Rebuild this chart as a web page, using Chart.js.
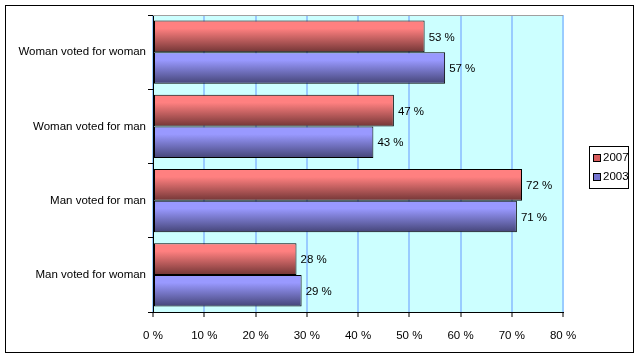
<!DOCTYPE html>
<html>
<head>
<meta charset="utf-8">
<script src="https://cdn.jsdelivr.net/npm/chart.js@4/dist/chart.umd.min.js"></script>
<style>
  html, body { margin: 0; padding: 0; background: #fff; }
  #wrap { width: 640px; height: 359px; }
</style>
</head>
<body>
<div id="wrap"><canvas id="grafico" width="640" height="359"></canvas></div>
<script>
// datos
const categorias = ['Woman voted for woman', 'Woman voted for man', 'Man voted for man', 'Man voted for woman'];
const serie2007 = [53, 47, 72, 28];
const serie2003 = [57, 43, 71, 29];
const nombresSeries = ['2007', '2003'];
const ticksX = [0, 10, 20, 30, 40, 50, 60, 70, 80];

const FUENTE = '"Liberation Sans", Arial, sans-serif';
const TAM = 11.5;

// degradado vertical para cada barra (claro arriba, oscuro abajo)
function degradado(arriba, abajo, dsIndex) {
    return function (ctx) {
        const chart = ctx.chart;
        const y = chart.scales && chart.scales.y;
        if (!y || ctx.dataIndex === undefined) return arriba;
        const centro = y.getPixelForValue(ctx.dataIndex);
        const alto = (y.bottom - y.top) / categorias.length * 0.85 / 2;
        if (!isFinite(centro) || !isFinite(alto) || alto <= 0) return arriba;
        const y0 = dsIndex === 0 ? centro - alto : centro;
        const g = chart.ctx.createLinearGradient(0, y0, 0, y0 + alto);
        g.addColorStop(0, arriba);
        g.addColorStop(0.25, arriba);
        g.addColorStop(1, abajo);
        return g;
    };
}

// fondo, marco exterior y area del grafico
const fondoPlugin = {
    id: 'fondo',
    beforeDraw(chart) {
        const c = chart.ctx;
        const a = chart.chartArea;
        c.save();
        c.fillStyle = '#ffffff';
        c.fillRect(0, 0, chart.width, chart.height);
        c.strokeStyle = '#000000';
        c.lineWidth = 1;
        c.strokeRect(5.5, 5.5, 628, 347);
        c.fillStyle = '#CCFFFF';
        c.fillRect(a.left, a.top, a.right - a.left, a.bottom - a.top);
        c.restore();
    },
    beforeDatasetsDraw(chart) {
        const c = chart.ctx;
        const a = chart.chartArea;
        c.save();
        c.strokeStyle = '#A0A0A0';
        c.lineWidth = 1;
        c.beginPath();
        c.moveTo(a.left, a.top + 0.5);
        c.lineTo(a.right, a.top + 0.5);
        c.stroke();
        c.restore();
    }
};

// etiquetas "53 %" al final de cada barra
const etiquetasPlugin = {
    id: 'etiquetas',
    afterDatasetsDraw(chart) {
        const c = chart.ctx;
        c.save();
        c.font = TAM + 'px ' + FUENTE;
        c.fillStyle = '#000000';
        c.textAlign = 'left';
        c.textBaseline = 'middle';
        chart.data.datasets.forEach(function (ds, i) {
            const meta = chart.getDatasetMeta(i);
            meta.data.forEach(function (bar, j) {
                c.fillText(ds.data[j] + ' %', bar.x + 4, bar.y + 1);
            });
        });
        c.restore();
    }
};

// leyenda con recuadro a la derecha
const leyendaPlugin = {
    id: 'leyenda',
    afterDraw(chart) {
        const c = chart.ctx;
        const colores = ['#D85C5C', '#7474D0'];
        c.save();
        c.fillStyle = '#ffffff';
        c.fillRect(589, 146, 40, 43);
        c.strokeStyle = '#000000';
        c.lineWidth = 1;
        c.strokeRect(589.5, 146.5, 39, 42);
        c.font = TAM + 'px ' + FUENTE;
        c.textBaseline = 'middle';
        c.textAlign = 'left';
        nombresSeries.forEach(function (n, i) {
            const yy = 158 + i * 19;
            c.fillStyle = colores[i];
            c.fillRect(594, yy - 3, 6, 6);
            c.strokeStyle = '#000000';
            c.strokeRect(593.5, yy - 3.5, 7, 7);
            c.fillStyle = '#000000';
            c.fillText(n, 603, yy);
        });
        c.restore();
    }
};

new Chart(document.getElementById('grafico'), {
    type: 'bar',
    data: {
        labels: categorias,
        datasets: [
            {
                label: nombresSeries[0],
                data: serie2007,
                backgroundColor: degradado('#FF8080', '#733636', 0),
                borderColor: '#000000',
                borderWidth: 1,
                borderSkipped: false,
                categoryPercentage: 0.85,
                barPercentage: 1.0
            },
            {
                label: nombresSeries[1],
                data: serie2003,
                backgroundColor: degradado('#9999FF', '#454578', 1),
                borderColor: '#000000',
                borderWidth: 1,
                borderSkipped: false,
                categoryPercentage: 0.85,
                barPercentage: 1.0
            }
        ]
    },
    options: {
        indexAxis: 'y',
        responsive: false,
        animation: false,
        layout: { padding: { left: 0, top: 15, right: 77, bottom: 0 } },
        plugins: {
            legend: { display: false },
            tooltip: { enabled: false }
        },
        scales: {
            x: {
                min: 0,
                max: 80,
                afterBuildTicks(scale) {
                    scale.ticks = ticksX.map(v => ({ value: v }));
                },
                afterFit(scale) { scale.height = 47; },
                grid: {
                    color: '#99CCFF',
                    lineWidth: 2,
                    tickColor: '#000000',
                    tickWidth: 1,
                    tickLength: 5
                },
                border: { color: '#000000', width: 1 },
                ticks: {
                    padding: 12,
                    color: '#000000',
                    font: { family: FUENTE, size: TAM },
                    maxRotation: 0,
                    callback: v => v + ' %'
                }
            },
            y: {
                afterFit(scale) { scale.width = 153; },
                grid: {
                    drawOnChartArea: false,
                    tickColor: '#000000',
                    tickLength: 5,
                    offset: true
                },
                border: { color: '#000000', width: 1 },
                ticks: {
                    padding: 2,
                    color: '#000000',
                    font: { family: FUENTE, size: TAM }
                }
            }
        }
    },
    plugins: [fondoPlugin, etiquetasPlugin, leyendaPlugin]
});
</script>
</body>
</html>
